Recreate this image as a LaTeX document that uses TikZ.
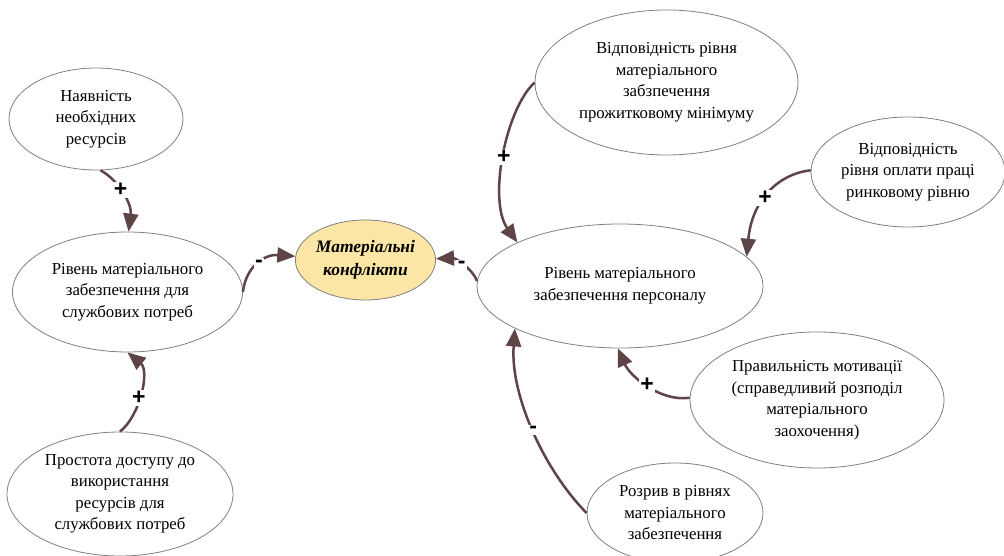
\documentclass[tikz,border=0pt]{standalone}
\usepackage{fontspec}
\setmainfont{Liberation Serif}
\newfontfamily\signfont{Liberation Sans}
\usetikzlibrary{shapes.geometric,arrows.meta}
\definecolor{edgec}{HTML}{5E4446}
\definecolor{outl}{HTML}{808080}
\definecolor{hub}{HTML}{FBE6A5}
\tikzset{
  ell/.style={ellipse, draw=outl, line width=0.8pt, inner sep=0pt, align=center,
    font=\fontsize{16.8}{21.5}\selectfont, text=black},
  hubnode/.style={ell, fill=hub, font=\bfseries\itshape\fontsize{17.5}{23}\selectfont},
  conn/.style={draw=edgec, line width=2.5pt, -{Triangle[length=18pt,width=15pt]}},
  sgn/.style={font=\signfont\bfseries\fontsize{23}{23}\selectfont, fill=white,
    inner sep=1.5pt, text=black}
}
\begin{document}
\begin{tikzpicture}[x=1pt,y=1pt]
\path[use as bounding box, fill=white] (0,0) rectangle (1004,556);

\node[ell, minimum width=174pt, minimum height=102pt] (n1) at (96,437)
  {Наявність\\необхідних\\ресурсів};
\node[ell, minimum width=230pt, minimum height=120pt] (n2) at (127.5,264)
  {Рівень матеріального\\забезпечення для\\службових потреб};
\node[hubnode, minimum width=139pt, minimum height=80pt] (n3) at (365.5,296)
  {Матеріальні\\конфлікти};
\node[ell, minimum width=226pt, minimum height=124pt] (n4) at (120,62)
  {Простота доступу до\\використання\\ресурсів для\\службових потреб};
\node[ell, minimum width=263pt, minimum height=145pt] (n5) at (666.5,473.5)
  {Відповідність рівня\\матеріального\\забзпечення\\прожитковому мінімуму};
\node[ell, minimum width=194pt, minimum height=110pt] (n6) at (908,384)
  {Відповідність\\рівня оплати праці\\ринковому рівню};
\node[ell, minimum width=286pt, minimum height=124pt] (n7) at (620,270)
  {Рівень матеріального\\забезпечення персоналу};
\node[ell, minimum width=254pt, minimum height=136pt] (n8) at (817,156)
  {Правильність мотивації\\(справедливий розподіл\\матеріального\\заохочення)};
\node[ell, minimum width=176pt, minimum height=100pt] (n9) at (675,43)
  {Розрив в рівнях\\матеріального\\забезпечення};

\draw[conn] (n1.-85) .. controls (120,375) and (132,351) .. (n2.89.5)
  node[sgn, pos=0.42] {+};
\draw[conn] (n4.90) .. controls (140,140) and (150,185) .. (n2.-90)
  node[sgn, pos=0.45] {+};
\draw[conn] (n2.0) .. controls (246,290) and (265,302) .. (n3.177.5)
  node[sgn, pos=0.5] {-};
\draw[conn] (n7.178.8) .. controls (472,288) and (455,298) .. (n3.1.7)
  node[sgn, pos=0.5] {-};
\draw[conn] (n5.180) .. controls (505,446) and (488,355) .. (n7.157)
  node[sgn, pos=0.5] {+};
\draw[conn] (n6.179.4) .. controls (778,382) and (752,356) .. (n7.13)
  node[sgn, pos=0.55] {+};
\draw[conn] (n8.179) .. controls (660,154) and (630,180) .. (n7.-92)
  node[sgn, pos=0.5] {+};
\draw[conn] (n9.180) .. controls (545,85) and (510,160) .. (n7.-158.8)
  node[sgn, pos=0.5] {-};
\end{tikzpicture}
\end{document}
